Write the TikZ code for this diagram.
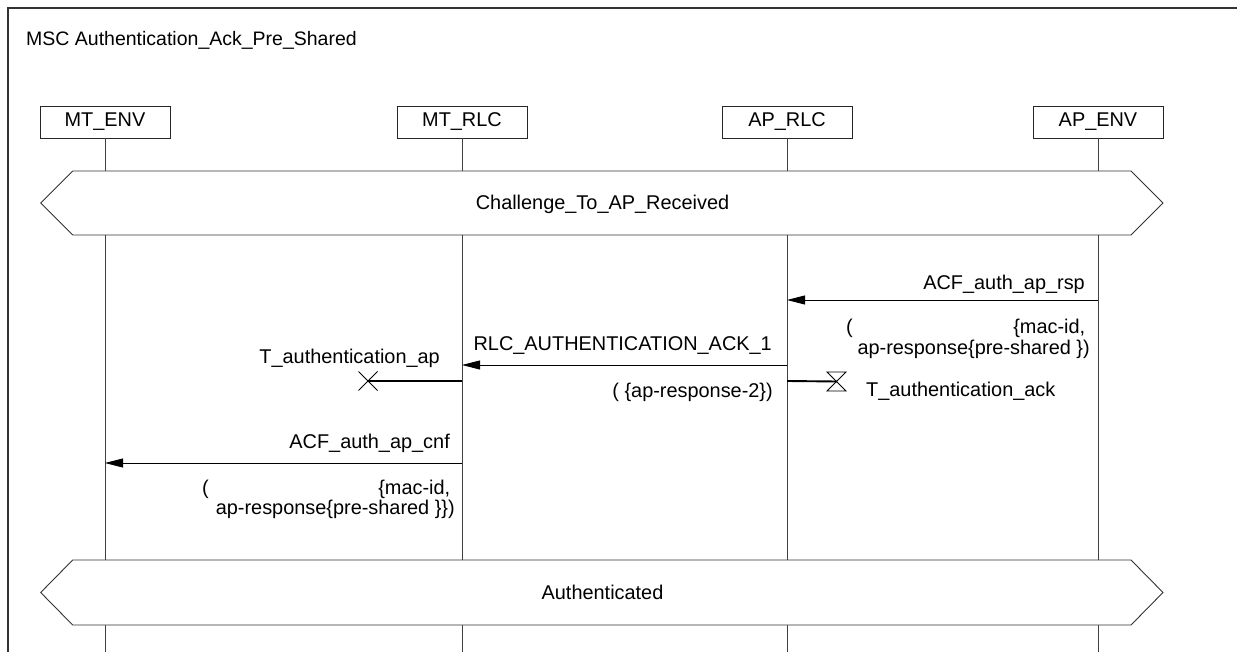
\documentclass[tikz,border=0pt]{standalone}
\usepackage{fontspec}
\setmainfont{Liberation Sans}
\usetikzlibrary{arrows.meta}
\begin{document}
\begin{tikzpicture}[x=1pt,y=-1pt,
  txt/.style={inner sep=0pt, font=\fontsize{19.9}{21}\selectfont},
  head/.style={draw=black!85, line width=0.9pt, minimum width=130pt, minimum height=32pt, inner sep=0pt, font=\fontsize{19.9}{21}\selectfont},
  life/.style={line width=0.9pt, draw=black!75},
  msg/.style={line width=0.9pt, draw=black, -{Triangle[length=18pt,width=9pt]}},
  tline/.style={line width=1.9pt, draw=black},
  tsym/.style={line width=0.9pt, draw=black},
  frm/.style={line width=1.3pt, draw=black!80},
  cond/.style={draw=black!80, line width=0.9pt, fill=white}]

\useasboundingbox (0,0) rectangle (1237,652);
\fill[white] (0,0) rectangle (1237,652);
\draw[frm] (8,652) -- (8,8) -- (1237,8);
\node[txt, anchor=base west, font=\fontsize{19.5}{22}\selectfont] (title) at (26,46) {MSC Authentication\_Ack\_Pre\_Shared};

% instance heads
\node[head] (mtenv) at (105,122) {MT\_ENV};
\node[head] (mtrlc) at (462,122) {MT\_RLC};
\node[head] (aprlc) at (787,122) {AP\_RLC};
\node[head] (apenv) at (1098,122) {AP\_ENV};

\coordinate (bot) at (0,652);
\foreach \n in {mtenv,mtrlc,aprlc,apenv}
  \draw[life] (\n.south) -- (\n.south |- bot);

% conditions
\draw[cond] (40.7,203) -- (72.7,171) -- (1131,171) -- (1163,203) -- (1131,235) -- (72.7,235) -- cycle;
\node[txt, anchor=base] (c1) at (602.5,210) {Challenge\_To\_AP\_Received};
\draw[cond] (40.7,592.5) -- (72.7,560) -- (1131,560) -- (1163,592.5) -- (1131,625) -- (72.7,625) -- cycle;
\node[txt, anchor=base] (c2) at (602.5,599.5) {Authenticated};

% ACF_auth_ap_rsp
\coordinate (rspA) at (1098,300);
\coordinate (rspB) at (787,300);
\draw[msg] (rspA) -- (rspB);
\node[txt, anchor=base east] (rspl) at (1085,290) {ACF\_auth\_ap\_rsp};
\node[txt, anchor=base west] (rspp1) at (846,334) {\makebox[239pt][l]{(\hfill\{mac-id,}};
\node[txt, anchor=base east] (rspp2) at (1090,354) {ap-response\{pre-shared \})};

% RLC_AUTHENTICATION_ACK_1
\coordinate (ackA) at (787,365);
\coordinate (ackB) at (462,365);
\draw[msg] (ackA) -- (ackB);
\node[txt, anchor=base east] (ackl) at (772,350) {RLC\_AUTHENTICATION\_ACK\_1};
\node[txt, anchor=base east] (ackp) at (773,397) {( \{ap-response-2\})};

% timer T_authentication_ap (stop)
\coordinate (t1A) at (462,381);
\coordinate (t1B) at (368,381);
\draw[tline] (t1A) -- (t1B);
\draw[tsym] ([shift={(-9.5,-9.5)}]t1B) -- ([shift={(9.5,9.5)}]t1B)
            ([shift={(-9.5,9.5)}]t1B) -- ([shift={(9.5,-9.5)}]t1B);
\node[txt, anchor=base east] (t1l) at (440,363) {T\_authentication\_ap};

% timer T_authentication_ack (start)
\coordinate (t2A) at (787,381);
\coordinate (t2B) at (836.5,381.5);
\draw[tline] (t2A) -- (t2B);
\draw[tsym] ([shift={(-9.5,-9.5)}]t2B) -- ([shift={(9.5,-9.5)}]t2B) -- ([shift={(-9.5,9.5)}]t2B) -- ([shift={(9.5,9.5)}]t2B) -- cycle;
\node[txt, anchor=base west] (t2l) at (866,396) {T\_authentication\_ack};

% ACF_auth_ap_cnf
\coordinate (cnfA) at (462,463);
\coordinate (cnfB) at (105,463);
\draw[msg] (cnfA) -- (cnfB);
\node[txt, anchor=base east] (cnfl) at (450,448) {ACF\_auth\_ap\_cnf};
\node[txt, anchor=base west] (cnfp1) at (202,494) {\makebox[248pt][l]{(\hfill\{mac-id,}};
\node[txt, anchor=base east] (cnfp2) at (455,514) {ap-response\{pre-shared \}\})};
\end{tikzpicture}
\end{document}
